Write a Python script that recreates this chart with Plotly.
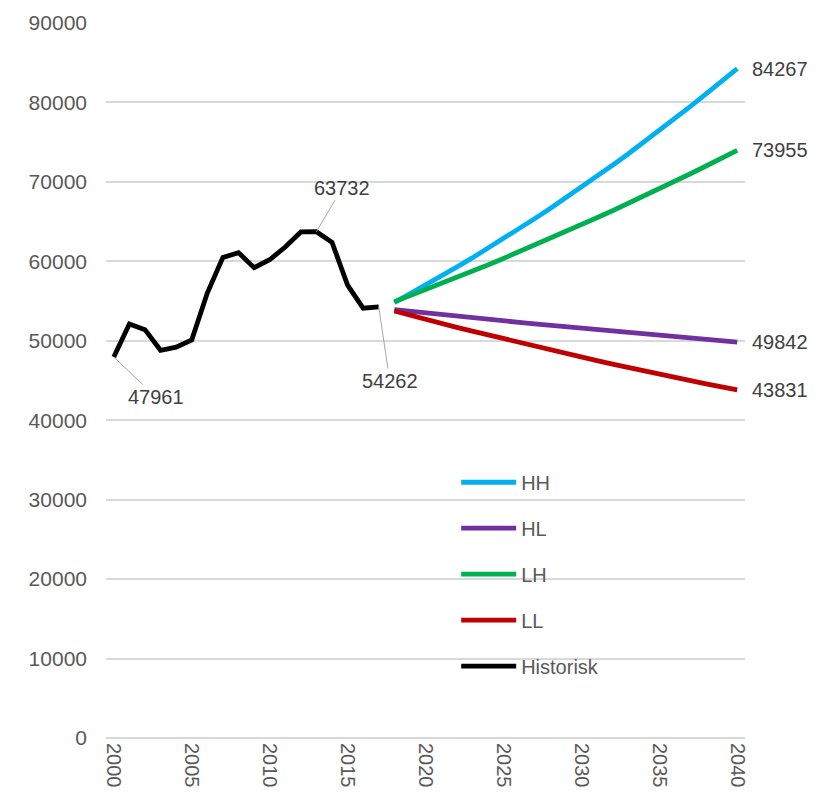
import plotly.graph_objects as go

# Historical series
hist_years = list(range(2000, 2018))
hist_values = [47961, 52100, 51400, 48800, 49200, 50100, 56000, 60500, 61100,
               59200, 60200, 61800, 63700, 63732, 62400, 57000, 54100, 54262]

# Projection scenarios
proj_years = list(range(2018, 2041))
hh = [54800, 55880, 56990, 58110, 59260, 60430, 61630, 62850, 64090, 65360, 66650,
      67970, 69310, 70690, 72090, 73510, 74970, 76450, 77960, 79510, 81080, 82690, 84267]
hl = [53930, 53710, 53500, 53300, 53100, 52900, 52700, 52510, 52320, 52130, 51950,
      51770, 51590, 51410, 51240, 51070, 50900, 50730, 50550, 50380, 50200, 50020, 49842]
lh = [54900, 55650, 56410, 57180, 57960, 58750, 59550, 60360, 61190, 62020, 62870,
      63730, 64600, 65480, 66370, 67280, 68200, 69130, 70070, 71030, 72000, 72970, 73955]
ll = [53750, 53200, 52680, 52180, 51690, 51210, 50730, 50260, 49790, 49320, 48860,
      48400, 47950, 47500, 47060, 46620, 46190, 45770, 45360, 44960, 44570, 44190, 43831]

scenarios = [("HH", hh, "#00B0F0"), ("HL", hl, "#7030A0"),
             ("LH", lh, "#00B050"), ("LL", ll, "#C00000")]

x_ticks = list(range(2000, 2041, 5))
y_ticks = list(range(0, 90001, 10000))

FONT = "Liberation Sans, Arial, sans-serif"
TEXT = "#404040"
AXIS_TEXT = "#595959"

fig = go.Figure()
for name, vals, color in scenarios:
    fig.add_trace(go.Scatter(x=proj_years, y=vals, mode="lines", name=name,
                             legendgroup=name,
                             line=dict(color=color, width=4.8)))
fig.add_trace(go.Scatter(x=hist_years, y=hist_values, mode="lines", name="Historisk",
                         legendgroup="Historisk",
                         line=dict(color="black", width=4.8)))

# Leader-line labels on the historical series
callouts = [(2000, hist_values[0], 42, 40),
            (2013, hist_values[13], 26, -44),
            (2017, hist_values[17], 11, 74)]
for x, y, ax, ay in callouts:
    fig.add_annotation(x=x, y=y, text=str(y), showarrow=True, arrowhead=0,
                       arrowwidth=1, arrowcolor="#a6a6a6", ax=ax, ay=ay,
                       font=dict(family=FONT, size=20, color=TEXT))

# End-of-line labels for each scenario
for name, vals, color in scenarios:
    fig.add_annotation(x=proj_years[-1], y=vals[-1], text=str(vals[-1]),
                       showarrow=False, xanchor="left", xshift=13,
                       font=dict(family=FONT, size=20, color=TEXT))

fig.update_layout(
    width=831, height=808,
    margin=dict(l=106, r=86, t=23, b=70),
    paper_bgcolor="white", plot_bgcolor="white",
    font=dict(family=FONT, size=20, color=AXIS_TEXT),
    showlegend=True,
    legend=dict(x=0.548, y=0.385, xanchor="left", yanchor="top",
                bgcolor="rgba(0,0,0,0)", tracegroupgap=17,
                itemwidth=55,
                font=dict(family=FONT, size=20, color=AXIS_TEXT)),
    xaxis=dict(range=[1999.5, 2040.5], tickmode="array", tickvals=x_ticks,
               ticktext=[str(t) for t in x_ticks], tickangle=90,
               showgrid=False, zeroline=False, showline=False, ticks="",
               ticklabelstandoff=4,
               tickfont=dict(family=FONT, size=20, color=AXIS_TEXT)),
    yaxis=dict(range=[0, 90000], tickmode="array", tickvals=y_ticks,
               ticktext=[str(t) for t in y_ticks],
               showgrid=True, gridcolor="#d9d9d9", gridwidth=1.5,
               zeroline=True, zerolinecolor="#d9d9d9", zerolinewidth=1.5,
               showline=False, ticks="",
               ticklabelstandoff=18,
               tickfont=dict(family=FONT, size=21, color=AXIS_TEXT)),
)

fig.write_html("out.html")
